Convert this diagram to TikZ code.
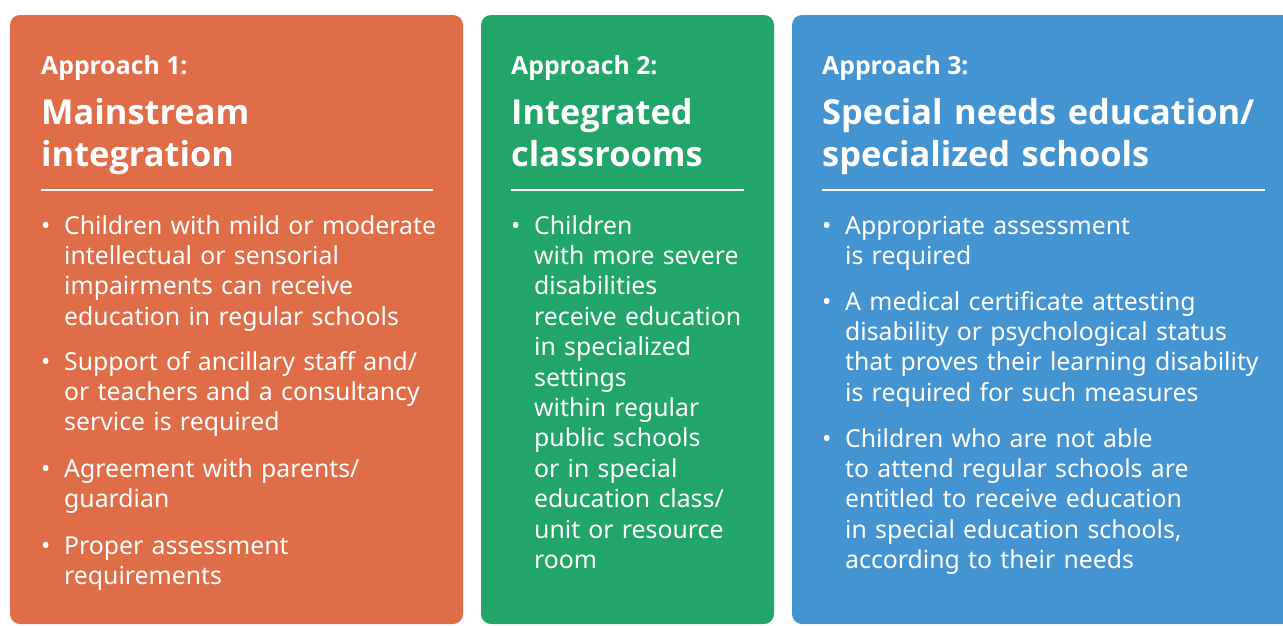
\documentclass[tikz,border=0pt]{standalone}
\usepackage{fontspec}
\setmainfont{Noto Sans}
\newfontfamily\headfont{Open Sans}
\usetikzlibrary{positioning}

\definecolor{apporange}{RGB}{222,109,72}
\definecolor{appgreen}{RGB}{34,165,104}
\definecolor{appblue}{RGB}{69,148,210}

\tikzset{
  panel/.style={rounded corners=10pt},
  approach/.style={text=white, inner sep=0pt, anchor=base west,
    font=\headfont\bfseries\fontsize{24.8}{28}\selectfont},
  heading/.style={text=white, inner sep=0pt, anchor=base west, align=left,
    text width=460pt, font=\headfont\bfseries\fontsize{34.4}{42}\selectfont},
  item/.style={text=white, inner sep=0pt, anchor=base west, align=left,
    text width=440pt, font=\fontsize{24.8}{30.4}\selectfont},
  dot/.style={text=white, inner sep=0pt, anchor=base west,
    font=\fontsize{24.8}{30.4}\selectfont},
  rule/.style={white, line width=2pt}
}

\begin{document}
\begin{tikzpicture}[x=1pt, y=-1pt]
  \useasboundingbox (0,0) rectangle (1283,625);
  \clip (0,0) rectangle (1283,625);

  % panels
  \fill[panel, apporange] (10,15) rectangle (463,624);
  \fill[panel, appgreen]  (481,15) rectangle (774,624);
  \fill[panel, appblue]   (792,15) rectangle (1320,624);

  % approach 1
  \node[approach] (a1) at (41,74) {Approach 1:};
  \node[heading] (h1) at (41,124) {Mainstream\\integration};
  \coordinate (r1a) at (41,190);
  \coordinate (r1b) at (433,190);
  \draw[rule] (r1a) -- (r1b);
  \node[dot] (d11) at (41,234) {•};
  \node[item] (i11) at (64,234) {Children with mild or moderate\\intellectual or sensorial\\impairments can receive\\education in regular schools};
  \node[dot] (d12) at (41,370) {•};
  \node[item] (i12) at (64,370) {Support of ancillary staff and/\\or teachers and a consultancy\\service is required};
  \node[dot] (d13) at (41,477) {•};
  \node[item] (i13) at (64,477) {Agreement with parents/\\guardian};
  \node[dot] (d14) at (41,554) {•};
  \node[item] (i14) at (64,554) {Proper assessment\\requirements};

  % approach 2
  \node[approach] (a2) at (511,74) {Approach 2:};
  \node[heading] (h2) at (511,124) {Integrated\\classrooms};
  \coordinate (r2a) at (511,190);
  \coordinate (r2b) at (744,190);
  \draw[rule] (r2a) -- (r2b);
  \node[dot] (d21) at (511,234) {•};
  \node[item] (i21) at (534,234) {Children\\with more severe\\disabilities\\receive education\\in specialized\\settings\\within regular\\public schools\\or in special\\education class/\\unit or resource\\room};

  % approach 3
  \node[approach] (a3) at (822,74) {Approach 3:};
  \node[heading] (h3) at (822,124) {Special needs education/\\specialized schools};
  \coordinate (r3a) at (822,190);
  \coordinate (r3b) at (1265,190);
  \draw[rule] (r3a) -- (r3b);
  \node[dot] (d31) at (822,234) {•};
  \node[item] (i31) at (845,234) {Appropriate assessment\\is required};
  \node[dot] (d32) at (822,310) {•};
  \node[item] (i32) at (845,310) {A medical certificate attesting\\disability or psychological status\\that proves their learning disability\\is required for such measures};
  \node[dot] (d33) at (822,447) {•};
  \node[item] (i33) at (845,447) {Children who are not able\\to attend regular schools are\\entitled to receive education\\in special education schools,\\according to their needs};
\end{tikzpicture}
\end{document}
